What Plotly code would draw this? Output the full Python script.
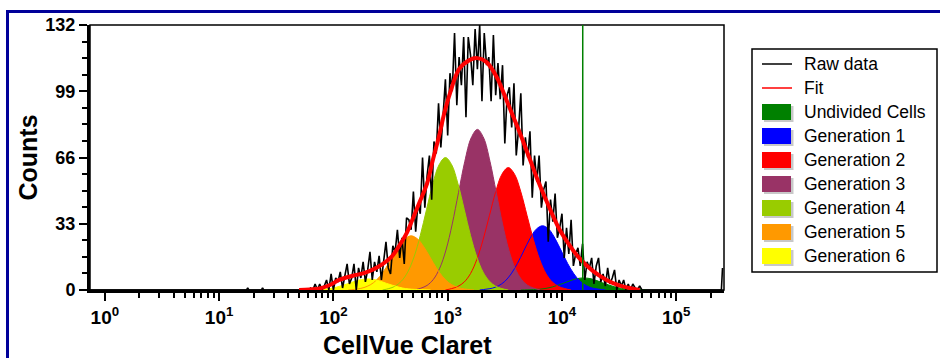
import plotly.graph_objects as go

# ---------------- data ----------------
x_tick_vals = [1, 10, 100, 1000, 10000, 100000]
x_tick_text = ["10<sup>0</sup>", "10<sup>1</sup>", "10<sup>2</sup>",
               "10<sup>3</sup>", "10<sup>4</sup>", "10<sup>5</sup>"]
x_minor_vals = [m * d for d in [1, 10, 100, 1000, 10000, 100000] for m in range(2, 10)]
y_tick_vals = [0, 33, 66, 99, 132]
y_tick_text = ["0", "33", "66", "99", "132"]
y_minor_vals = [8.25, 16.5, 24.75, 41.25, 49.5, 57.75, 74.25, 82.5, 90.75, 107.25, 115.5, 123.75]

legend_labels = ["Raw data", "Fit", "Undivided Cells", "Generation 1", "Generation 2",
                 "Generation 3", "Generation 4", "Generation 5", "Generation 6"]
gen_colors = ["#008000", "#0000FF", "#FF0000", "#993366", "#99CC00", "#FF9900", "#FFFF00"]

# raw histogram (log10 of intensity, counts)
raw_log_left = [-0.13, 1.24, 1.25, 1.26, 1.37, 1.38, 1.39, 1.78]
raw_counts_left = [0, 0, 1, 0, 0, 1, 0, 0]
raw_log_main = [round(1.80 + 0.02 * i, 2) for i in range(146)]
raw_counts_main = [1, 0, 3, 0, 3, 0, 2, 5, 0, 8,
                   0, 6, 4, 9, 1, 7, 13, 3, 6, 13,
                   0, 11, 6, 14, 4, 10, 19, 5, 14, 9,
                   17, 5, 16, 24, 11, 8, 22, 19, 30, 16,
                   26, 13, 36, 35, 30, 49, 29, 43, 38, 66,
                   41, 57, 67, 45, 74, 68, 93, 71, 87, 105,
                   77, 108, 99, 128, 92, 116, 102, 126, 86, 126,
                   117, 102, 130, 110, 132, 94, 128, 112, 116, 94,
                   127, 97, 113, 95, 112, 73, 97, 101, 81, 103,
                   67, 80, 98, 62, 76, 66, 79, 46, 67, 54,
                   67, 41, 50, 54, 24, 45, 34, 48, 26, 31,
                   38, 16, 31, 18, 35, 12, 18, 21, 12, 23,
                   5, 14, 11, 16, 3, 12, 16, 4, 8, 2,
                   11, 3, 6, 10, 0, 5, 2, 5, 0, 3,
                   0, 3, 1, 0, 2, 0]
raw_log_right = [4.72, 5.395, 5.405]
raw_counts_right = [0, 0, 11]

# fitted total
fit_log = [1.70, 1.79, 1.88, 1.97, 2.05, 2.17, 2.26, 2.34, 2.43, 2.51,
           2.58, 2.64, 2.69, 2.75, 2.82, 2.87, 2.93, 2.97, 3.02, 3.10,
           3.19, 3.26, 3.34, 3.43, 3.48, 3.54, 3.63, 3.72, 3.80, 3.89,
           3.98, 4.07, 4.15, 4.27, 4.39, 4.50, 4.59, 4.68]
fit_counts = [0, 0.3, 0.8, 2.5, 5.0, 7.1, 8.3, 10, 12.9, 16.6,
              22.4, 28.2, 34.9, 43.2, 53.1, 64.7, 78, 88, 98, 110,
              114.5, 115.5, 113.5, 106, 99.5, 91, 78.5, 65, 53, 41,
              30, 22, 16, 9.5, 5, 2.3, 1, 0]

# generation peaks
undiv_log = [3.64, 3.695, 3.75, 3.805, 3.86, 3.915, 3.97, 4.025, 4.08, 4.135, 4.19,
             4.245, 4.30, 4.355, 4.41, 4.465, 4.52, 4.575, 4.63, 4.685, 4.74]
undiv_counts = [0, 0.1, 0.2, 0.4, 0.8, 1.5, 2.5, 3.6, 4.8, 5.7, 6,
                5.7, 4.8, 3.6, 2.5, 1.5, 0.8, 0.4, 0.2, 0.1, 0]
gen1_log = [3.28, 3.335, 3.39, 3.445, 3.50, 3.555, 3.61, 3.665, 3.72, 3.775, 3.83,
            3.885, 3.94, 3.995, 4.05, 4.105, 4.16, 4.215, 4.27, 4.325, 4.38]
gen1_counts = [0, 0.4, 0.9, 2.1, 4.3, 8.0, 13.2, 19.4, 25.6, 30.3, 32,
               30.3, 25.6, 19.4, 13.2, 8.0, 4.3, 2.1, 0.9, 0.4, 0]
gen2_log = [2.98, 3.035, 3.09, 3.145, 3.20, 3.255, 3.31, 3.365, 3.42, 3.475, 3.53,
            3.585, 3.64, 3.695, 3.75, 3.805, 3.86, 3.915, 3.97, 4.025, 4.08]
gen2_counts = [0, 0.7, 1.8, 4.0, 8.2, 15.2, 25.1, 37.0, 48.9, 57.7, 61,
               57.7, 48.9, 37.0, 25.1, 15.2, 8.2, 4.0, 1.8, 0.7, 0]
gen3_log = [2.71, 2.765, 2.82, 2.875, 2.93, 2.985, 3.04, 3.095, 3.15, 3.205, 3.26,
            3.315, 3.37, 3.425, 3.48, 3.535, 3.59, 3.645, 3.70, 3.755, 3.81]
gen3_counts = [0, 0.9, 2.3, 5.3, 10.8, 19.9, 32.9, 48.6, 64.1, 75.7, 80,
               75.7, 64.1, 48.6, 32.9, 19.9, 10.8, 5.3, 2.3, 0.9, 0]
gen4_log = [2.43, 2.485, 2.54, 2.595, 2.65, 2.705, 2.76, 2.815, 2.87, 2.925, 2.98,
            3.035, 3.09, 3.145, 3.20, 3.255, 3.31, 3.365, 3.42, 3.475, 3.53]
gen4_counts = [0, 0.7, 1.9, 4.4, 8.9, 16.4, 27.1, 40.1, 52.9, 62.4, 66,
               62.4, 52.9, 40.1, 27.1, 16.4, 8.9, 4.4, 1.9, 0.7, 0]
gen5_log = [2.13, 2.185, 2.24, 2.295, 2.35, 2.405, 2.46, 2.515, 2.57, 2.625, 2.68,
            2.735, 2.79, 2.845, 2.90, 2.955, 3.01, 3.065, 3.12, 3.175, 3.23]
gen5_counts = [0, 0.3, 0.8, 1.8, 3.6, 6.7, 11.1, 16.4, 21.6, 25.5, 27,
               25.5, 21.6, 16.4, 11.1, 6.7, 3.6, 1.8, 0.8, 0.3, 0]
gen6_log = [1.75, 1.805, 1.86, 1.915, 1.97, 2.025, 2.08, 2.135, 2.19, 2.245, 2.30,
            2.355, 2.41, 2.465, 2.52, 2.575, 2.63, 2.685, 2.74, 2.795, 2.85]
gen6_counts = [0, 0.1, 0.2, 0.4, 0.7, 1.4, 2.3, 3.3, 4.4, 5.2, 5.5,
               5.2, 4.4, 3.3, 2.3, 1.4, 0.7, 0.4, 0.2, 0.1, 0]

gate_value = 15200

# ---------------- figure ----------------
FONT = "Arial, 'Liberation Sans', sans-serif"
W, H = 940, 358
L, R, T, B = 90, 724, 25, 290


def px(x):
    return (x - L) / (R - L)


def py(y):
    return (B - y) / (B - T)


def tox(logs):
    return [10 ** u for u in logs]


gens = [(undiv_log, undiv_counts), (gen1_log, gen1_counts), (gen2_log, gen2_counts),
        (gen3_log, gen3_counts), (gen4_log, gen4_counts), (gen5_log, gen5_counts),
        (gen6_log, gen6_counts)]

fig = go.Figure()

# fills: undivided at the bottom, generation 6 on top
for (lg, ct), col in zip(gens, gen_colors):
    fig.add_trace(go.Scatter(x=tox(lg), y=ct, mode="lines", fill="tozeroy",
                             fillcolor=col, line=dict(color=col, width=0, shape="spline"),
                             showlegend=False, hoverinfo="skip"))
# outlines
for (lg, ct), col in zip(gens, gen_colors):
    fig.add_trace(go.Scatter(x=tox(lg), y=ct, mode="lines",
                             line=dict(color=col, width=1, shape="spline"),
                             showlegend=False, hoverinfo="skip"))

raw_log = raw_log_left + raw_log_main + raw_log_right
raw_counts = raw_counts_left + raw_counts_main + raw_counts_right
fig.add_trace(go.Scatter(x=tox(raw_log), y=raw_counts, mode="lines",
                         line=dict(color="black", width=1.6), showlegend=False))
fig.add_trace(go.Scatter(x=tox(fit_log), y=fit_counts, mode="lines",
                         line=dict(color="#FF0000", width=4, shape="spline"),
                         showlegend=False))
fig.add_trace(go.Scatter(x=[gate_value, gate_value], y=[0, 132], mode="lines",
                         line=dict(color="#008000", width=1.5), showlegend=False))

shapes = []
# outer blue frame
shapes.append(dict(type="rect", xref="paper", yref="paper", x0=px(7.5), x1=px(1000),
                   y0=py(420), y1=py(11.5), line=dict(color="#000099", width=3),
                   fillcolor="rgba(0,0,0,0)", layer="below"))
# plot frame (top/right)
shapes.append(dict(type="rect", xref="paper", yref="paper", x0=0, x1=1, y0=0, y1=1,
                   line=dict(color="black", width=1.5), layer="below"))
# legend box
shapes.append(dict(type="rect", xref="paper", yref="paper", x0=px(752), x1=px(937),
                   y0=py(272), y1=py(49), line=dict(color="black", width=1.5),
                   fillcolor="white", layer="below"))
row_y = [64, 88, 112, 136, 160, 184, 208, 232, 256]
shapes.append(dict(type="line", xref="paper", yref="paper", x0=px(762), x1=px(792),
                   y0=py(row_y[0]), y1=py(row_y[0]), line=dict(color="black", width=1.5)))
shapes.append(dict(type="line", xref="paper", yref="paper", x0=px(762), x1=px(792),
                   y0=py(row_y[1]), y1=py(row_y[1]), line=dict(color="#FF0000", width=1.5)))
for yc, col in zip(row_y[2:], gen_colors):
    shapes.append(dict(type="rect", xref="paper", yref="paper", x0=px(764), x1=px(793.5),
                       y0=py(yc + 10), y1=py(yc - 6), line=dict(width=0),
                       fillcolor="#c8c8c8", layer="above"))
    shapes.append(dict(type="rect", xref="paper", yref="paper", x0=px(762), x1=px(791),
                       y0=py(yc + 8), y1=py(yc - 8), line=dict(width=0),
                       fillcolor=col, layer="above"))

annotations = []
for yc, lab in zip(row_y, legend_labels):
    annotations.append(dict(xref="paper", yref="paper", x=px(802), y=py(yc),
                            xanchor="left", yanchor="middle", text=lab, showarrow=False,
                            font=dict(family=FONT, size=17.5, color="black")))
annotations.append(dict(xref="paper", yref="paper", x=px(407), y=py(344.5),
                        xanchor="center", yanchor="middle", text="CellVue Claret",
                        showarrow=False,
                        font=dict(family=FONT, size=25, color="black", weight="bold")))
annotations.append(dict(xref="paper", yref="paper", x=px(27), y=py(157.5),
                        xanchor="center", yanchor="middle", text="Counts", textangle=-90,
                        showarrow=False,
                        font=dict(family=FONT, size=25, color="black", weight="bold")))

fig.update_layout(
    width=W, height=H,
    margin=dict(l=L, r=W - R, t=T, b=H - B, pad=0),
    paper_bgcolor="white", plot_bgcolor="white",
    showlegend=False,
    shapes=shapes, annotations=annotations,
    xaxis=dict(type="log", range=[-0.13, 5.418], tickmode="array",
               tickvals=x_tick_vals, ticktext=x_tick_text,
               ticks="outside", ticklen=8, tickwidth=2, tickcolor="black",
               showline=True, linewidth=3, linecolor="black",
               showgrid=False, zeroline=False,
               tickfont=dict(family=FONT, size=19, color="black", weight="bold"),
               minor=dict(tickmode="array", tickvals=x_minor_vals, ticks="outside",
                          ticklen=5, tickwidth=1.5, tickcolor="black", showgrid=False)),
    yaxis=dict(range=[0, 132], tickmode="array", tickvals=y_tick_vals, ticktext=y_tick_text,
               ticks="outside", ticklen=8, tickwidth=2, tickcolor="black",
               showline=True, linewidth=3, linecolor="black",
               showgrid=False, zeroline=False,
               tickfont=dict(family=FONT, size=18, color="black", weight="bold"),
               minor=dict(tickmode="array", tickvals=y_minor_vals, ticks="outside",
                          ticklen=5, tickwidth=1.5, tickcolor="black", showgrid=False)),
)

fig.write_html("out.html", config={"displayModeBar": False},
               post_script="document.body.style.margin='0';")
